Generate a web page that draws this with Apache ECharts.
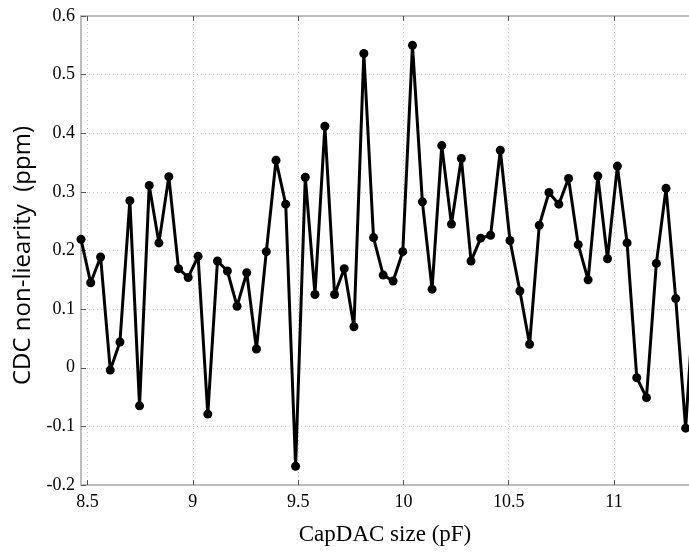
<!DOCTYPE html>
<html>
<head>
<meta charset="utf-8">
<script src="https://cdn.jsdelivr.net/npm/echarts@6/dist/echarts.min.js"></script>
<style>
  html, body { margin: 0; padding: 0; background: #fff; }
  #chart { width: 689px; height: 552px; }
</style>
</head>
<body>
<div id="chart"></div>
<script>
// capacitor sizes (pF)
var capSize = [
    8.469, 8.515, 8.562, 8.608, 8.654, 8.701, 8.747, 8.793, 8.839, 8.886,
    8.932, 8.978, 9.025, 9.071, 9.117, 9.164, 9.210, 9.256, 9.302, 9.349,
    9.395, 9.441, 9.488, 9.534, 9.580, 9.627, 9.673, 9.719, 9.765, 9.812,
    9.858, 9.904, 9.951, 9.997, 10.043, 10.090, 10.136, 10.182, 10.228, 10.275,
    10.321, 10.367, 10.414, 10.460, 10.506, 10.553, 10.599, 10.645, 10.691, 10.738,
    10.784, 10.830, 10.877, 10.923, 10.969, 11.016, 11.062, 11.108, 11.154, 11.201,
    11.247, 11.293, 11.340, 11.386
];

// non-linearity (ppm)
var nonLin = [
    0.219, 0.145, 0.189, -0.004, 0.044, 0.285, -0.065, 0.311, 0.213, 0.326,
    0.169, 0.154, 0.190, -0.079, 0.182, 0.165, 0.105, 0.162, 0.032, 0.198,
    0.354, 0.279, -0.168, 0.325, 0.125, 0.412, 0.125, 0.169, 0.070, 0.536,
    0.222, 0.158, 0.148, 0.198, 0.550, 0.283, 0.134, 0.379, 0.245, 0.357,
    0.182, 0.221, 0.226, 0.371, 0.217, 0.131, 0.040, 0.243, 0.299, 0.279,
    0.323, 0.210, 0.150, 0.327, 0.186, 0.344, 0.213, -0.017, -0.051, 0.178,
    0.306, 0.118, -0.103, 0.150
];

// x tick labels
var xTicks = [8.5, 9, 9.5, 10, 10.5, 11];

var chart = echarts.init(document.getElementById('chart'));

var pts = capSize.map(function (x, i) { return [x, nonLin[i]]; });

var axisLineStyle = { show: true, onZero: false, lineStyle: { color: '#bdbdbd', width: 2 } };
var gridLine = { show: true, lineStyle: { color: '#c8c8c8', type: [1, 3], width: 1 } };
function ticks(vals) {
    var t = { show: true, inside: true, length: 5, lineStyle: { color: '#555', width: 1 } };
    if (vals) t.customValues = vals;
    return t;
}

var option = {
    animation: false,
    grid: { left: 81, right: 0, top: 16, bottom: 67 },
    xAxis: [{
        type: 'value',
        min: 8.469,
        max: 11.356,
        position: 'bottom',
        name: 'CapDAC size (pF)',
        nameLocation: 'middle',
        nameGap: 38,
        nameTextStyle: { fontFamily: 'Liberation Serif', fontSize: 23, color: '#000' },
        axisLine: axisLineStyle,
        axisTick: ticks(xTicks),
        axisLabel: {
            customValues: xTicks,
            fontFamily: 'Liberation Serif', fontSize: 18, color: '#000', margin: 8
        },
        splitLine: gridLine
    }, {
        type: 'value',
        min: 8.469,
        max: 11.356,
        position: 'top',
        axisLine: axisLineStyle,
        axisTick: ticks(xTicks),
        axisLabel: { show: false },
        splitLine: { show: false }
    }],
    yAxis: {
        type: 'value',
        min: -0.2,
        max: 0.6,
        interval: 0.1,
        name: 'CDC non-liearity  (ppm)',
        nameLocation: 'middle',
        nameGap: 42,
        nameTextStyle: { fontFamily: 'Open Sans', fontSize: 24, color: '#000', padding: [0, 10, 0, 0] },
        axisLine: axisLineStyle,
        axisTick: ticks(null),
        axisLabel: { fontFamily: 'Liberation Serif', fontSize: 18, color: '#000', margin: 6 },
        splitLine: gridLine
    },
    series: [{
        type: 'line',
        data: pts,
        clip: true,
        symbol: 'circle',
        symbolSize: 9,
        showAllSymbol: true,
        itemStyle: { color: '#000' },
        lineStyle: { color: '#000', width: 3 }
    }]
};

chart.setOption(option);
</script>
</body>
</html>
